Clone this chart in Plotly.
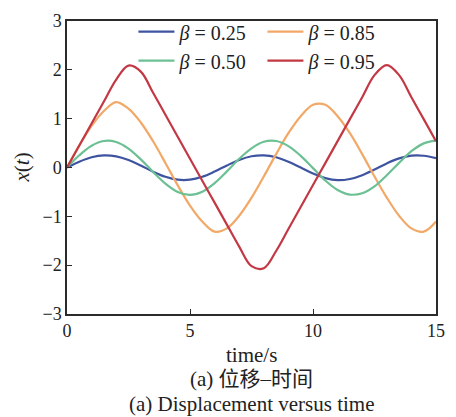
import plotly.graph_objects as go

t = [0.0, 0.5, 1.0, 1.5, 2.0, 2.5, 3.0, 3.5, 4.0, 4.5, 5.0, 5.5, 6.0, 6.5, 7.0, 7.5,
     8.0, 8.5, 9.0, 9.5, 10.0, 10.5, 11.0, 11.5, 12.0, 12.5, 13.0, 13.5, 14.0, 14.5, 15.0]

x_b025 = [0.0, 0.119, 0.209, 0.249, 0.229, 0.154, 0.041, -0.085, -0.19, -0.25, -0.25, -0.19,
          -0.083, 0.042, 0.155, 0.23, 0.249, 0.209, 0.118, -0.002, -0.125, -0.218, -0.26,
          -0.236, -0.157, -0.04, 0.084, 0.186, 0.243, 0.241, 0.19]
x_b050 = [0.0, 0.25, 0.446, 0.543, 0.522, 0.387, 0.166, -0.091, -0.33, -0.50, -0.56, -0.495,
          -0.32, -0.079, 0.179, 0.393, 0.527, 0.542, 0.438, 0.239, -0.013, -0.267, -0.46,
          -0.554, -0.528, -0.388, -0.158, 0.095, 0.333, 0.494, 0.55]
x_b085 = [0.0, 0.452, 0.852, 1.158, 1.339, 1.205, 0.922, 0.537, 0.093, -0.364, -0.78, -1.107,
          -1.314, -1.247, -0.989, -0.621, -0.184, 0.274, 0.702, 1.049, 1.283, 1.283, 1.05,
          0.702, 0.274, -0.184, -0.617, -0.989, -1.247, -1.314, -1.107]
x_b095 = [0.0, 0.45, 0.90, 1.35, 1.80, 2.087, 1.964, 1.53, 1.08, 0.63, 0.18, -0.27, -0.72,
          -1.17, -1.62, -2.021, -2.062, -1.71, -1.26, -0.81, -0.36, 0.09, 0.54, 0.99, 1.44,
          1.891, 2.095, 1.891, 1.44, 0.99, 0.54]

# legend order (row-wise): 0.25, 0.85 / 0.50, 0.95
series = [
    ("0.25", x_b025, "rgb(62,84,160)"),
    ("0.85", x_b085, "rgb(242,168,102)"),
    ("0.50", x_b050, "rgb(108,192,148)"),
    ("0.95", x_b095, "rgb(194,56,68)"),
]

fig = go.Figure()
for name, ys, col in series:
    fig.add_trace(go.Scatter(
        x=t, y=ys, mode="lines", name="<i>β</i> = " + name,
        line=dict(color=col, width=2.2, shape="spline", smoothing=1.0),
    ))

serif = "Liberation Serif, Times New Roman, Noto Sans CJK SC, serif"
axis_common = dict(
    showline=True, linecolor="#2b2b2b", linewidth=1.5, mirror=True,
    ticks="inside", ticklen=5, tickwidth=1.2, tickcolor="#2b2b2b",
    showgrid=False, zeroline=False,
    tickfont=dict(family=serif, size=18, color="#222"),
)

fig.update_layout(
    width=456, height=417,
    margin=dict(l=67, r=11, t=21, b=103),
    paper_bgcolor="white", plot_bgcolor="white",
    font=dict(family=serif, color="#222"),
    showlegend=True,
    legend=dict(
        orientation="h", x=0.18, y=1.03, xanchor="left", yanchor="top",
        bgcolor="rgba(0,0,0,0)", font=dict(family=serif, size=20, color="#222"),
        entrywidth=78, tracegroupgap=0, itemwidth=36,
    ),
    xaxis=dict(range=[0, 15], tickvals=[0, 5, 10, 15], **axis_common),
    yaxis=dict(range=[-3, 3], tickvals=[-3, -2, -1, 0, 1, 2, 3],
               ticktext=["−3", "−2", "−1", "0", "1", "2", "3"], **axis_common),
    annotations=[
        dict(text="time/s", x=0.5, y=-0.14, xref="paper", yref="paper",
             showarrow=False, font=dict(family=serif, size=21, color="#222"),
             xanchor="center", yanchor="middle"),
        dict(text="(a) 位移–时间", x=0.5, y=-0.222, xref="paper", yref="paper",
             showarrow=False, font=dict(family=serif, size=21, color="#222"),
             xanchor="center", yanchor="middle"),
        dict(text="(a) Displacement versus time", x=0.5, y=-0.307, xref="paper", yref="paper",
             showarrow=False, font=dict(family=serif, size=21, color="#222"),
             xanchor="center", yanchor="middle"),
        dict(text="<i>x</i>(<i>t</i>)", x=-0.122, y=0.5, xref="paper", yref="paper",
             showarrow=False, textangle=-90, font=dict(family=serif, size=21, color="#222"),
             xanchor="center", yanchor="middle"),
    ],
)

fig.write_html("out.html")
